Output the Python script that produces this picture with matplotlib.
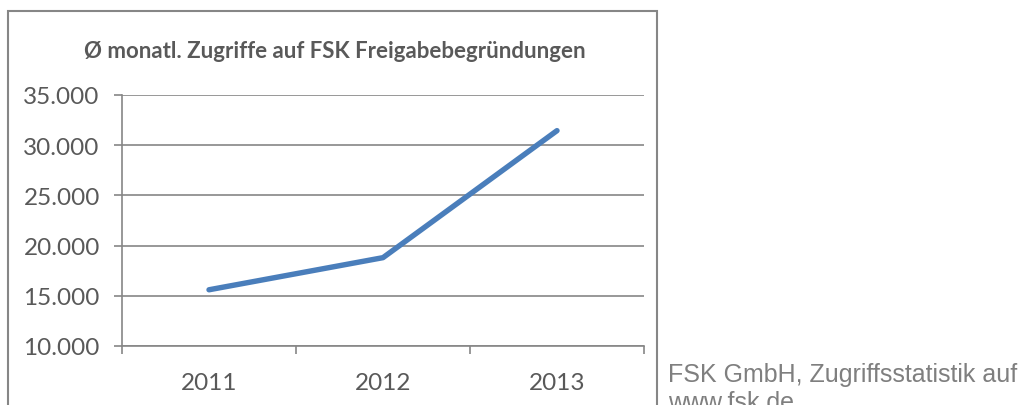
import matplotlib.pyplot as plt
from matplotlib.patches import Rectangle
from matplotlib.ticker import FuncFormatter, FixedLocator

# Daten
jahre = ["2011", "2012", "2013"]
zugriffe = [15600, 18800, 31450]
titel = "Ø monatl. Zugriffe auf FSK Freigabebegründungen"
quelle = "FSK GmbH, Zugriffsstatistik auf\nwww.fsk.de"

W, H = 1022, 406
GRAU = "#868686"
TEXT = "#595959"

fig = plt.figure(figsize=(W / 100, H / 100), dpi=100)
ax = fig.add_axes([122 / W, 1 - 347 / H, (644 - 122) / W, (347 - 96) / H])

x = list(range(1, len(jahre) + 1))
ax.plot(x, zugriffe, color="#4A7EBB", lw=3.9, solid_capstyle="round",
        solid_joinstyle="round", zorder=3)

ax.set_xlim(0.5, len(jahre) + 0.5)
ax.set_ylim(10000, 35000)
ax.set_yticks(range(10000, 35001, 5000))
ax.yaxis.set_major_formatter(FuncFormatter(lambda v, p: f"{int(v):,}".replace(",", ".")))

# Kategorien zwischen den Teilstrichen
ax.xaxis.set_major_locator(FixedLocator([i + 0.5 for i in range(len(jahre) + 1)]))
ax.xaxis.set_major_formatter(FuncFormatter(lambda v, p: ""))
ax.set_xticks(x, minor=True)
ax.set_xticklabels(jahre, minor=True)

ax.grid(axis="y", color=GRAU, lw=1.2)
ax.set_axisbelow(True)
for s in ["top", "right"]:
    ax.spines[s].set_visible(False)
for s in ["left", "bottom"]:
    ax.spines[s].set_color(GRAU)
    ax.spines[s].set_linewidth(1.2)

ax.tick_params(axis="both", which="major", color=GRAU, width=1.2, length=6,
               labelsize=17.5, labelcolor=TEXT)
ax.tick_params(axis="x", which="minor", length=0, pad=19, labelsize=17.5, labelcolor=TEXT)
ax.tick_params(axis="y", pad=10)
for lbl in ax.get_xticklabels(minor=True) + ax.get_yticklabels():
    lbl.set_fontfamily("Lato")

# Rahmen um das Diagramm (unten abgeschnitten)
fig.patches.append(Rectangle((8 / W, -0.2), (657 - 8) / W, 1.2 - 12 / H,
                             transform=fig.transFigure, fill=False,
                             edgecolor=GRAU, lw=1.5))

fig.text(335 / W, 1 - 52 / H, titel, ha="center", va="center", fontsize=16,
         fontweight="bold", color=TEXT, family="Lato")
fig.text(668 / W, 1 - 363 / H, quelle, ha="left", va="top", fontsize=18,
         color="#7F7F7F", family="Liberation Sans", linespacing=1.2)

fig.savefig("out.png", dpi=100)
